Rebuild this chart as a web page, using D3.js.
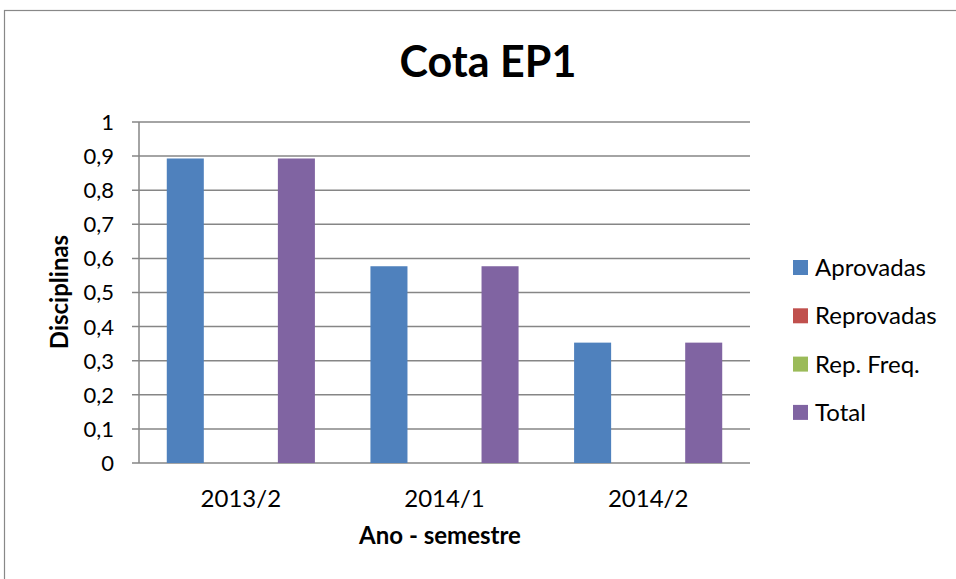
<!DOCTYPE html>
<html><head><meta charset="utf-8">
<script src="https://cdnjs.cloudflare.com/ajax/libs/d3/7.8.5/d3.min.js"></script>
<style>body{margin:0;background:#fff}svg{display:block}text{font-family:Lato,"Open Sans",sans-serif;fill:#000}</style>
</head><body><svg id="c" width="956" height="579"></svg>
<script>
const categories = ["2013/2", "2014/1", "2014/2"];
const seriesNames = ["Aprovadas", "Reprovadas", "Rep. Freq.", "Total"];
const seriesColors = ["#4F81BD", "#C0504D", "#9BBB59", "#8064A2"];
const aprovadas = [0.893, 0.577, 0.353];
const reprovadas = [0, 0, 0];
const repFreq = [0, 0, 0];
const total = [0.893, 0.577, 0.353];
const yTicks = [0, 0.1, 0.2, 0.3, 0.4, 0.5, 0.6, 0.7, 0.8, 0.9, 1];
const title = "Cota EP1";
const xTitle = "Ano - semestre";
const yTitle = "Disciplinas";

const seriesValues = [aprovadas, reprovadas, repFreq, total];
const svg = d3.select("#c");
svg.append("rect").attr("x", 4.5).attr("y", 10.5).attr("width", 1000).attr("height", 1000)
  .attr("fill", "#fff").attr("stroke", "#888").attr("stroke-width", 1.2);

const L = 139, R = 750, T = 122, B = 463;
const x0 = d3.scaleBand().domain(categories).range([L, R]).paddingInner(0.2727).paddingOuter(0.1364);
const x1 = d3.scaleBand().domain(seriesNames).range([0, x0.bandwidth()]);
const y = d3.scaleLinear().domain([0, 1]).range([B, T]);
const fmt = d => d3.format(".1~f")(d).replace(".", ",");

// grid
svg.append("g").selectAll("line").data(yTicks).join("line")
  .attr("x1", L - 7).attr("x2", R).attr("y1", d => y(d)).attr("y2", d => y(d))
  .attr("stroke", "#868686").attr("stroke-width", 1.5);
svg.append("line").attr("x1", L).attr("x2", L).attr("y1", T).attr("y2", B)
  .attr("stroke", "#868686").attr("stroke-width", 1.5);

// y labels
svg.append("g").selectAll("text").data(yTicks).join("text")
  .attr("x", L - 25).attr("y", d => y(d)).attr("dy", "0.36em").attr("text-anchor", "end")
  .style("font-size", "22px").text(fmt);

// bars
const g = svg.append("g");
seriesNames.forEach((s, si) => {
  g.append("g").selectAll("rect").data(categories).join("rect")
    .attr("x", c => x0(c) + x1(s)).attr("width", x1.bandwidth())
    .attr("y", (c, i) => y(seriesValues[si][i]))
    .attr("height", (c, i) => B - y(seriesValues[si][i]))
    .attr("fill", seriesColors[si]);
});

// x labels
svg.append("g").selectAll("text").data(categories).join("text")
  .attr("x", c => x0(c) + x0.bandwidth() / 2).attr("y", 507).attr("text-anchor", "middle")
  .style("font-size", "24px").text(d => d);

svg.append("text").attr("x", 440).attr("y", 544).attr("text-anchor", "middle")
  .style("font-size", "24px").style("font-weight", "bold").text(xTitle);
svg.append("text").attr("transform", "translate(68,292) rotate(-90)").attr("text-anchor", "middle")
  .style("font-size", "24px").style("font-weight", "bold").text(yTitle);
svg.append("text").attr("x", 488).attr("y", 77).attr("text-anchor", "middle")
  .style("font-size", "43px").style("font-weight", "bold").text(title);

// legend
const lg = svg.append("g").selectAll("g").data(seriesNames).join("g")
  .attr("transform", (d, i) => `translate(793,${267.5 + i * 48.3})`);
lg.append("rect").attr("x", 0).attr("y", -7.5).attr("width", 15).attr("height", 15)
  .attr("fill", (d, i) => seriesColors[i]);
lg.append("text").attr("x", 22).attr("y", 0).attr("dy", "0.36em").style("font-size", "24px").text(d => d);
</script></body></html>
